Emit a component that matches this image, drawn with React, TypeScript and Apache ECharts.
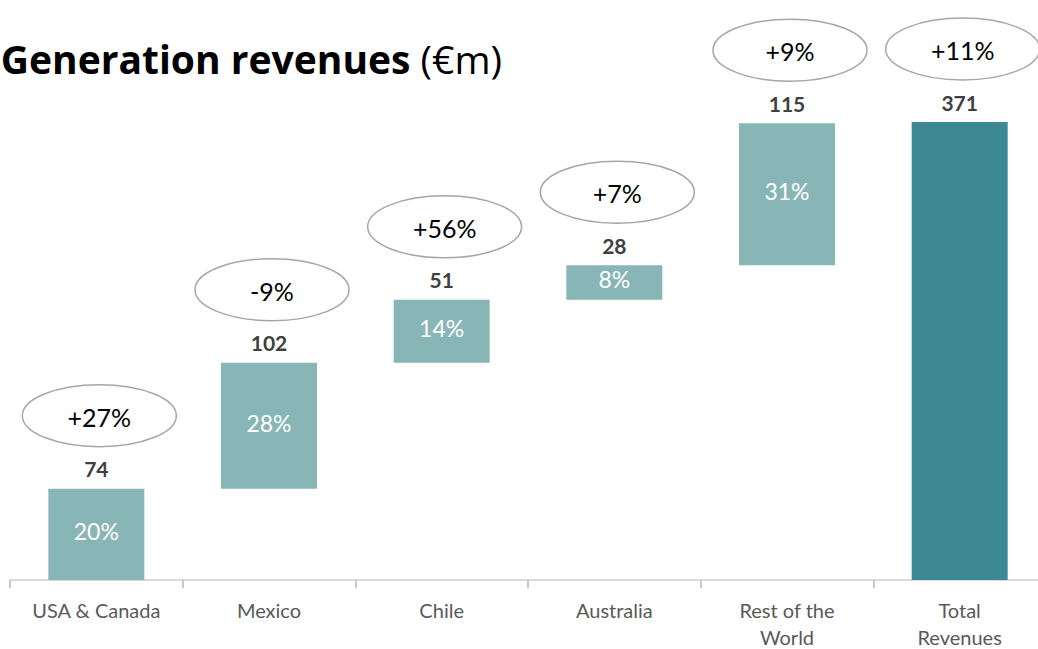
import React, { useEffect, useRef } from "react";
import * as echarts from "echarts";

const categories = ["USA & Canada", "Mexico", "Chile", "Australia", "Rest of the\nWorld", "Total\nRevenues"];
const values = [74, 102, 51, 28, 115, 371];
const shares = ["20%", "28%", "14%", "8%", "31%", ""];
const growth = ["+27%", "-9%", "+56%", "+7%", "+9%", "+11%"];
const isTotal = [false, false, false, false, false, true];

const FONT = "Lato, 'Open Sans', sans-serif";
const TITLE_FONT = "'Open Sans', Lato, sans-serif";

export default function App() {
  const ref = useRef<HTMLDivElement>(null);
  useEffect(() => {
    if (!ref.current) return;
    const chart = echarts.init(ref.current, null, { renderer: "svg" });
    const bases: number[] = [];
    let acc = 0;
    values.forEach((v, i) => {
      if (isTotal[i]) {
        bases.push(0);
      } else {
        bases.push(acc);
        acc += v;
      }
    });
    const tops = values.map((v, i) => bases[i] + v);
    chart.setOption({
      animation: false,
      graphic: [
        {
          type: "text",
          style: {
            text: "{b|Generation revenues}{n|\u00a0(€m)}",
            x: 502,
            y: 58,
            align: "right",
            verticalAlign: "middle",
            rich: {
              b: { fontSize: 39, fontWeight: "bold", fontFamily: TITLE_FONT, fill: "#000" },
              n: { fontSize: 39, fontWeight: "normal", fontFamily: TITLE_FONT, fill: "#000" },
            },
          },
        },
      ],
      grid: { left: 10, right: 0, top: 122, bottom: 69, outerBoundsMode: "none", containLabel: false },
      xAxis: {
        type: "category",
        data: categories,
        axisLine: { show: true, lineStyle: { color: "#D9D9D9", width: 2 } },
        axisTick: { show: true, length: 8, lineStyle: { color: "#C8C8C8", width: 2 } },
        axisLabel: {
          interval: 0,
          color: "#595959",
          fontSize: 20,
          lineHeight: 27,
          margin: 16,
          fontFamily: FONT,
        },
      },
      yAxis: { type: "value", show: false, min: 0, max: 371, splitLine: { show: false } },
      series: [
        {
          type: "bar",
          stack: "w",
          data: bases,
          barWidth: 96,
          itemStyle: { color: "transparent" },
          silent: true,
        },
        {
          type: "bar",
          stack: "w",
          barWidth: 96,
          data: values.map((v, i) => ({
            value: v,
            itemStyle: { color: isTotal[i] ? "#3C8991" : "#88B5B5" },
          })),
          label: {
            show: true,
            position: "inside",
            offset: [0, -3],
            color: "#fff",
            fontSize: 23,
            fontFamily: FONT,
            formatter: (p: any) => shares[p.dataIndex],
          },
        },
        {
          type: "custom",
          data: tops.map((t, i) => [i, t]),
          encode: { x: 0, y: 1 },
          clip: false,
          z: 10,
          renderItem: (params: any, api: any) => {
            const i = api.value(0);
            const t = api.value(1);
            const p = api.coord([i, t]);
            return {
              type: "group",
              children: [
                {
                  type: "ellipse",
                  shape: { cx: p[0] + 3, cy: p[1] - 73, rx: 77, ry: 31 },
                  style: { fill: "#fff", stroke: "#A6A6A6", lineWidth: 1.5 },
                },
                {
                  type: "text",
                  style: {
                    text: growth[i],
                    x: p[0] + 3,
                    y: p[1] - 72,
                    align: "center",
                    verticalAlign: "middle",
                    fontSize: 25,
                    fontFamily: FONT,
                    fill: "#000",
                  },
                },
                {
                  type: "text",
                  style: {
                    text: String(values[i]),
                    x: p[0],
                    y: p[1] - 20,
                    align: "center",
                    verticalAlign: "middle",
                    fontSize: 21,
                    fontWeight: "bold",
                    fontFamily: FONT,
                    fill: "#404040",
                  },
                },
              ],
            };
          },
        },
      ],
    });
    return () => chart.dispose();
  }, []);
  return (
    <div style={{ position: "fixed", left: 0, top: 0, width: 1038, height: 649, overflow: "hidden", background: "#fff" }}>
      <div ref={ref} style={{ width: 1046, height: 649 }} />
    </div>
  );
}
